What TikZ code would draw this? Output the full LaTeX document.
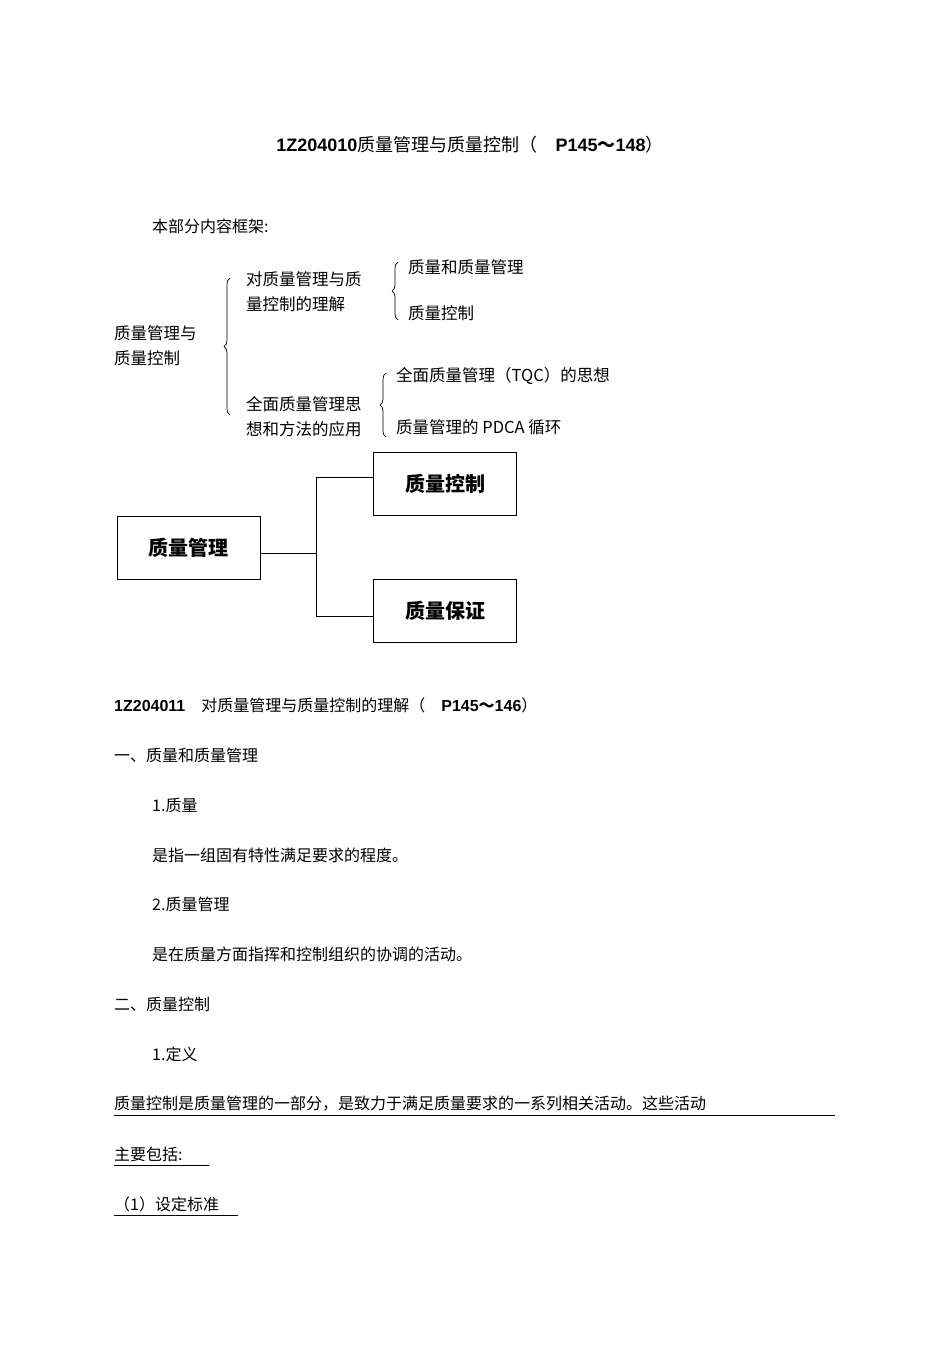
\documentclass[tikz,border=0pt]{standalone}
\usepackage{fontspec}
\setmainfont{Liberation Sans}
\newfontfamily\cjk{Noto Sans CJK SC}
\usetikzlibrary{decorations.pathreplacing}
\begin{document}
\begin{tikzpicture}[x=1pt,y=-1pt,
 t/.style={anchor=west,inner sep=0pt,font=\cjk\fontsize{16}{18}\selectfont},
 tb/.style={anchor=west,inner sep=0pt,font=\cjk\fontsize{16.5}{19}\selectfont,align=left},
 bx/.style={draw,line width=0.9pt,minimum width=143pt,minimum height=63pt,font=\cjk\bfseries\fontsize{20}{22}\selectfont},
 br/.style={decorate,decoration={brace,amplitude=6pt},line width=0.7pt},
 ul/.style={line width=0.8pt}]
\useasboundingbox (0,0) rectangle (950,1346);
\node[anchor=center,inner sep=0pt] (title) at (470,145) {\fontsize{18}{20}\selectfont\textbf{1Z204010}{\cjk 质量管理与质量控制（\quad}\textbf{P145{\cjk ～}148}{\cjk ）}};
\node[t] (intro) at (152,226) {本部分内容框架:};
\node[tb] (root) at (114,346) {质量管理与\\[6pt]质量控制};
\node[tb] (b1) at (246,292) {对质量管理与质\\[6pt]量控制的理解};
\node[tb] (b2) at (246,417) {全面质量管理思\\[6pt]想和方法的应用};
\node[t,font=\cjk\fontsize{16.5}{19}\selectfont] (c1) at (408,267) {质量和质量管理};
\node[t,font=\cjk\fontsize{16.5}{19}\selectfont] (c2) at (408,313) {质量控制};
\node[t,font=\cjk\fontsize{16.5}{19}\selectfont] (c3) at (396,376) {全面质量管理（TQC）的思想};
\node[t,font=\cjk\fontsize{16.5}{19}\selectfont] (c4) at (396,427) {质量管理的 PDCA 循环};
\draw[br] (230,415) -- (230,278);
\draw[br] (398,320) -- (398,262);
\draw[br] (386,437) -- (386,373);
\node[bx] (qm) at (188.5,547.5) {质量管理};
\node[bx] (qc) at (445,484) {质量控制};
\node[bx] (qa) at (445,611) {质量保证};
\coordinate (j) at (316,553);
\draw[line width=0.8pt] (qm.east|-j) -- (j);
\draw[line width=0.8pt] (316,477) -- (316,616);
\draw[line width=0.8pt] (316,477) -- (qc.west|-316,477);
\draw[line width=0.8pt] (316,616) -- (qa.west|-316,616);
\node[anchor=west,inner sep=0pt] (s1) at (114,705) {\fontsize{16}{18}\selectfont\textbf{1Z204011}\quad{\cjk 对质量管理与质量控制的理解（\quad}\textbf{P145{\cjk ～}146}{\cjk ）}};
\node[t] (l1) at (114,755) {一、质量和质量管理};
\node[t] (l2) at (152,805) {1.质量};
\node[t] (l3) at (152,855) {是指一组固有特性满足要求的程度。};
\node[t] (l4) at (152,904) {2.质量管理};
\node[t] (l5) at (152,954) {是在质量方面指挥和控制组织的协调的活动。};
\node[t] (l6) at (114,1004) {二、质量控制};
\node[t] (l7) at (152,1054) {1.定义};
\node[t] (l8) at (114,1104) {质量控制是质量管理的一部分，是致力于满足质量要求的一系列相关活动。这些活动};
\node[t] (l9) at (114,1154) {主要包括:};
\node[t] (l10) at (114,1204) {（1）设定标准};
\draw[ul] (114,1115) -- (835,1115);
\draw[ul] (114,1165) -- (209,1165);
\draw[ul] (114,1215) -- (238,1215);
\end{tikzpicture}
\end{document}
